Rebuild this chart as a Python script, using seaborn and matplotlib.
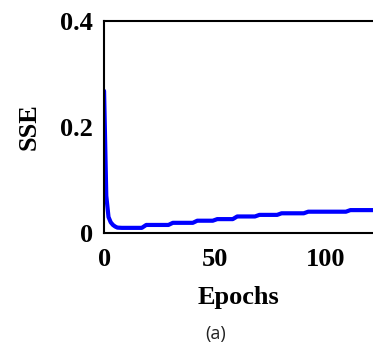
import matplotlib
matplotlib.use("Agg")
import matplotlib.pyplot as plt
import pandas as pd
import seaborn as sns

# SSE per epoch (breakpoints of the curve)
epochs = [0, 1, 2, 3, 4, 5, 6, 8, 17, 19, 29, 31, 40, 42, 49, 51, 58, 60, 68, 70,
          78, 80, 90, 92, 109, 111, 122]
sse = [0.268, 0.07, 0.03, 0.02, 0.015, 0.012, 0.010, 0.0095, 0.0095, 0.015, 0.015,
       0.019, 0.019, 0.023, 0.023, 0.026, 0.026, 0.031, 0.031, 0.034, 0.034, 0.037,
       0.037, 0.040, 0.040, 0.043, 0.043]
x_ticks = [0, 50, 100]
y_ticks = [0, 0.2, 0.4]
y_tick_labels = ["0", "0.2", "0.4"]

df = pd.DataFrame({"Epochs": epochs, "SSE": sse})

sns.set_style("white")
plt.rcParams["font.family"] = ["Liberation Serif", "DejaVu Serif"]

fig = plt.figure(figsize=(3.73, 3.43), dpi=100)
ax = fig.add_axes([0.279, 0.321, 0.721, 0.618])
sns.lineplot(data=df, x="Epochs", y="SSE", color="#0000ff", linewidth=3, ax=ax)

ax.set_xlim(0, 121.2)
ax.set_ylim(0, 0.4)
ax.set_xticks(x_ticks)
ax.set_yticks(y_ticks)
ax.set_yticklabels(y_tick_labels)
ax.tick_params(direction="in", length=3, width=1.2, colors="black", labelsize=19)
ax.tick_params(axis="x", pad=11)
ax.tick_params(axis="y", pad=8)
for lab in ax.get_xticklabels() + ax.get_yticklabels():
    lab.set_fontweight("bold")
ax.set_xlabel("Epochs", fontsize=19, fontweight="bold", labelpad=11, color="black")
ax.set_ylabel("SSE", fontsize=19, fontweight="bold", labelpad=14, color="black")
for side in ["left", "bottom", "top"]:
    ax.spines[side].set_color("black")
    ax.spines[side].set_linewidth(1.5)
ax.spines["right"].set_visible(False)

fig.text(0.577, 0.025, "(a)", fontsize=13, family="Open Sans", color="#222222",
         ha="center", va="center")

fig.savefig("out.png", dpi=100)
